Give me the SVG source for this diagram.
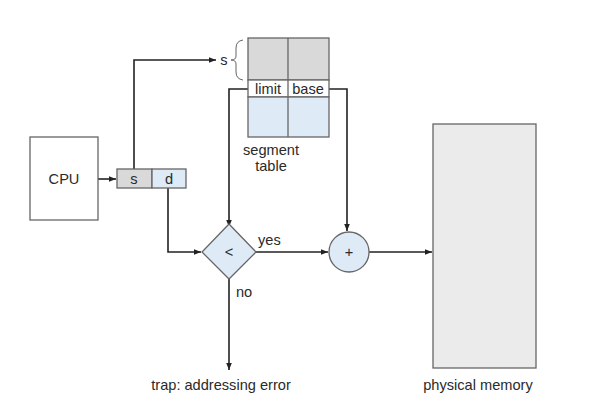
<svg xmlns="http://www.w3.org/2000/svg" width="590" height="419" viewBox="0 0 590 419">
<defs>
<style>
text{font-family:"Liberation Sans",Arial,sans-serif;font-size:14.6px;fill:#2a2a2a}
.box{stroke:#666;stroke-width:1.3}
.ln{fill:none;stroke:#222;stroke-width:1.6}
</style>
<marker id="ah" viewBox="0 0 10 10" refX="10" refY="5" markerWidth="7" markerHeight="7" orient="auto" markerUnits="userSpaceOnUse">
<path d="M0,1 L10,5 L0,9 Z" fill="#222"/>
</marker>
</defs>
<rect width="590" height="419" fill="#fff"/>
<g id="connectors">
<path class="ln" d="M98,179 H116" marker-end="url(#ah)"/>
<path class="ln" d="M134,169 V60 H216" marker-end="url(#ah)"/>
<path class="ln" d="M248,89 H229 V227" marker-end="url(#ah)"/>
<path class="ln" d="M329,89 H347 V231" marker-end="url(#ah)"/>
<path class="ln" d="M168,188 V252 H201" marker-end="url(#ah)"/>
<path class="ln" d="M256,252 H328" marker-end="url(#ah)"/>
<path class="ln" d="M369,252 H432" marker-end="url(#ah)"/>
<path class="ln" d="M229,279 V370" marker-end="url(#ah)"/>
</g>
<g id="cpu">
<rect class="box" x="30" y="137" width="68" height="83" fill="#fff"/>
<text x="64" y="184" text-anchor="middle">CPU</text>
</g>
<g id="address">
<rect class="box" x="117" y="169" width="35" height="19" fill="#d9d9d9"/>
<rect class="box" x="152" y="169" width="34" height="19" fill="#deebf7"/>
<text x="134" y="184" text-anchor="middle">s</text>
<text x="169" y="184" text-anchor="middle">d</text>
</g>
<g id="segment-table">
<rect class="box" x="248" y="38" width="81" height="42" fill="#d9d9d9"/>
<rect class="box" x="248" y="80" width="81" height="17" fill="#fff"/>
<rect class="box" x="248" y="97" width="81" height="40" fill="#deebf7"/>
<line class="box" x1="288" y1="38" x2="288" y2="137"/>
<text x="268" y="94" text-anchor="middle">limit</text>
<text x="308" y="94" text-anchor="middle">base</text>
<text x="224" y="65" text-anchor="middle">s</text>
<path d="M243,40 Q236,41 236,48 V56 Q236,60 231,60 Q236,60 236,64 V72 Q236,79 243,80" fill="none" stroke="#666" stroke-width="1"/>
<text x="271" y="155" text-anchor="middle">segment</text>
<text x="271" y="171" text-anchor="middle">table</text>
</g>
<g id="compare">
<polygon class="box" points="229,224 256,252 229,279 202,252" fill="#deebf7"/>
<text x="229" y="257" text-anchor="middle">&lt;</text>
<text x="258" y="245">yes</text>
<text x="236" y="297">no</text>
</g>
<g id="adder">
<circle class="box" cx="349" cy="252" r="20" fill="#deebf7"/>
<text x="349" y="257" text-anchor="middle">+</text>
</g>
<g id="memory">
<rect class="box" x="433" y="124" width="103" height="244" fill="#ebebeb"/>
<text x="478" y="390" text-anchor="middle">physical memory</text>
</g>
<g id="trap">
<text x="221" y="390" text-anchor="middle">trap: addressing error</text>
</g>
</svg>
